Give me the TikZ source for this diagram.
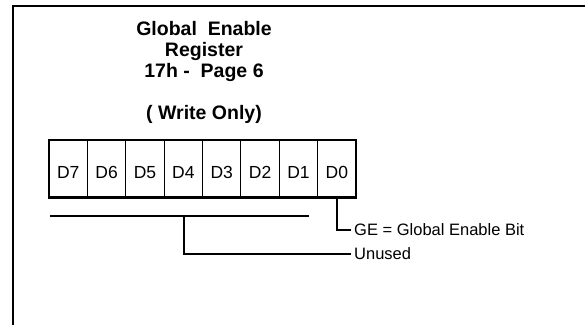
\documentclass[tikz,border=0pt]{standalone}
\usepackage{fontspec}
\setmainfont{Liberation Sans}
\usepackage{tikz}
\usetikzlibrary{positioning}

\begin{document}
\begin{tikzpicture}[
    x=1pt, y=-1pt,
    bitcell/.style={draw, line width=1.1pt, minimum width=38.375pt, minimum height=57pt, inner sep=0pt, text height=19pt, text depth=0pt, font=\fontsize{17.5}{20}\selectfont},
    heading/.style={anchor=base, align=center, font=\bfseries\fontsize{19.5}{21}\selectfont},
    bitlabel/.style={anchor=west, inner sep=3pt, font=\fontsize{16.5}{19}\selectfont},
    wire/.style={line width=2pt},
]
    \useasboundingbox (0,0) rectangle (585,325);

    % Frame
    \draw[line width=2pt] (12.5,325) -- (12.5,6) -- (585,6);

    % Title (base = last line)
    \node[heading] (title) at (204,77.7) {Global\ \ Enable\\Register\\17h -\ \ Page 6};
    \node[heading] (mode) at (204,119) {( Write Only)};

    % Register cells
    \node[bitcell] (c7) at (68.2,168.5) {D7};
    \node[bitcell] (c6) at (106.6,168.5) {D6};
    \node[bitcell] (c5) at (145.0,168.5) {D5};
    \node[bitcell] (c4) at (183.3,168.5) {D4};
    \node[bitcell] (c3) at (221.7,168.5) {D3};
    \node[bitcell] (c2) at (260.1,168.5) {D2};
    \node[bitcell] (c1) at (298.5,168.5) {D1};
    \node[bitcell] (c0) at (336.8,168.5) {D0};
    \draw[wire] (c7.south west) -- (c0.south east);

    % Bit labels
    \node[bitlabel] (ge) at (351,230) {GE = Global Enable Bit};
    \node[bitlabel] (unused) at (351,254) {Unused};

    % Connectors
    \coordinate (ul) at (50,216);
    \coordinate (ur) at (309,216);
    \coordinate (ub) at (184,216);
    \draw[wire] (ul) -- (ur);
    \draw[wire] (ub) |- (unused.west);
    \draw[wire] (c0.south) |- (ge.west);
\end{tikzpicture}
\end{document}
